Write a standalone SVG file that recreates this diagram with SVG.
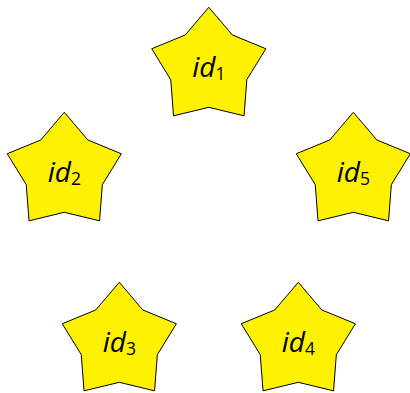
<svg xmlns="http://www.w3.org/2000/svg" xmlns:xlink="http://www.w3.org/1999/xlink" width="410" height="393" viewBox="0 0 410 393">
<style>
.star{fill:#FFF200;stroke:#000;stroke-width:1;stroke-linejoin:miter}
.lbl{font-family:"Open Sans","Liberation Sans",Arial,sans-serif;font-style:italic;font-size:28px;fill:#000}
.sub{font-style:normal;font-size:17.5px}
</style>
<defs>
<polygon id="star" class="star" points="0,-60 23.51,-32.36 57.06,-18.54 38.04,12.36 35.27,48.54 0,40 -35.27,48.54 -38.04,12.36 -57.06,-18.54 -23.51,-32.36"/>
</defs>
<rect width="410" height="393" fill="#fff"/>
<g id="connectors"></g>
<g id="n1" transform="translate(208.8,67.3)">
<use xlink:href="#star" href="#star"/>
<text class="lbl" x="-16.5" y="9.3">id<tspan class="sub" dy="3">1</tspan></text>
</g>
<g id="n2" transform="translate(64.3,172.3)">
<use xlink:href="#star" href="#star"/>
<text class="lbl" x="-16.5" y="9.3">id<tspan class="sub" dy="3">2</tspan></text>
</g>
<g id="n3" transform="translate(119.3,342.3)">
<use xlink:href="#star" href="#star"/>
<text class="lbl" x="-16.5" y="9.3">id<tspan class="sub" dy="3">3</tspan></text>
</g>
<g id="n4" transform="translate(298.3,342.3)">
<use xlink:href="#star" href="#star"/>
<text class="lbl" x="-16.5" y="9.3">id<tspan class="sub" dy="3">4</tspan></text>
</g>
<g id="n5" transform="translate(353.3,172.3)">
<use xlink:href="#star" href="#star"/>
<text class="lbl" x="-16.5" y="9.3">id<tspan class="sub" dy="3">5</tspan></text>
</g>
</svg>
